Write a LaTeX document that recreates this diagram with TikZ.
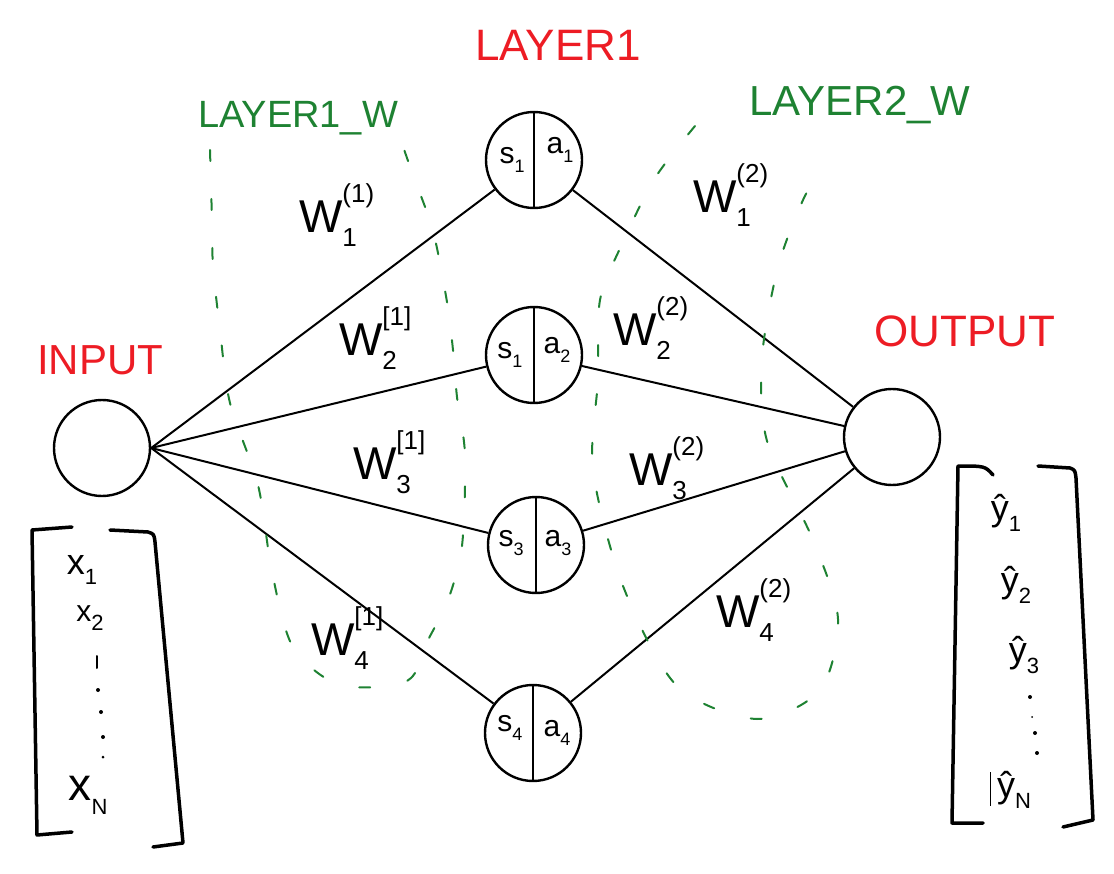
\documentclass[tikz,border=0pt]{standalone}
\usepackage{fontspec}
\setmainfont{Liberation Sans}
\definecolor{hred}{RGB}{237,28,36}
\definecolor{hgreen}{RGB}{30,130,50}
\newcommand{\fsz}[1]{\fontsize{#1}{#1}\selectfont}
\newcommand{\wlab}[2]{W\rlap{\raisebox{0.65em}{\fsz{26}#2}}\raisebox{-0.3em}{\fsz{26}#1}}
\newcommand{\unitsub}[2]{#1\raisebox{-0.3em}{\fsz{18}#2}}
\newcommand{\vecsub}[2]{#1\raisebox{-0.3em}{\fsz{22}#2}}
\tikzset{
  neuron/.style={circle,draw,line width=2.4pt,minimum size=96pt,inner sep=0pt},
  conn/.style={line width=2pt},
  redlbl/.style={text=hred},
  greenlbl/.style={text=hgreen},
  wlbl/.style={font=\fsz{46}},
  unitlbl/.style={font=\fsz{30},inner sep=0pt},
  veclbl/.style={font=\fsz{36},inner sep=0pt},
  bracket/.style={line width=3.5pt,line cap=round,line join=round},
  groupline/.style={draw=hgreen,line width=2pt,dash pattern=on 11pt off 38pt,line cap=round},
  handdot/.style={fill,circle,inner sep=0pt,minimum size=4pt},
}
\begin{document}
\begin{tikzpicture}[x=1pt,y=-1pt]
\useasboundingbox (0,0) rectangle (1114,874);
% titles
\node[redlbl,font=\fsz{44}] (t1) at (558,45) {LAYER1};
\node[greenlbl,font=\fsz{38}] (t2) at (298,118) {LAYER1\_W};
\node[greenlbl,font=\fsz{42}] (t3) at (860,105) {LAYER2\_W};
\node[redlbl,font=\fsz{42}] (t4) at (100,360) {INPUT};
\node[redlbl,font=\fsz{44}] (t5) at (965,331) {OUTPUT};
% neurons
\node[neuron] (in) at (102,448) {};
\node[neuron] (out) at (892,437) {};
\node[neuron] (h1) at (534,160) {};
\node[neuron] (h2) at (534,355) {};
\node[neuron] (h3) at (536,545) {};
\node[neuron] (h4) at (533,733) {};
\foreach \h in {h1,h2,h3,h4}{\draw[conn] (\h.north) -- (\h.south);}
% unit labels
\node[unitlbl] (s1) at (512,160) {\unitsub{s}{1}};
\node[unitlbl] (a1) at (560,150) {\unitsub{a}{1}};
\node[unitlbl] (s2) at (510,355) {\unitsub{s}{1}};
\node[unitlbl] (a2) at (557,350) {\unitsub{a}{2}};
\node[unitlbl] (s3) at (511,543) {\unitsub{s}{3}};
\node[unitlbl] (a3) at (558,543) {\unitsub{a}{3}};
\node[unitlbl] (s4) at (510,728) {\unitsub{s}{4}};
\node[unitlbl] (a4) at (557,733) {\unitsub{a}{4}};
% connections
\foreach \h in {h1,h2,h3,h4}{\draw[conn] (in.east) -- (\h); \draw[conn] (\h) -- (out);}
% weight labels
\node[wlbl] (w11) at (328,215) {\wlab{1}{(1)}};
\node[wlbl] (w21) at (368,338) {\wlab{2}{[1]}};
\node[wlbl] (w31) at (382,462) {\wlab{3}{[1]}};
\node[wlbl] (w41) at (340,638) {\wlab{4}{[1]}};
\node[wlbl] (w12) at (722,195) {\wlab{1}{(2)}};
\node[wlbl] (w22) at (642,328) {\wlab{2}{(2)}};
\node[wlbl] (w32) at (658,468) {\wlab{3}{(2)}};
\node[wlbl] (w42) at (745,610) {\wlab{4}{(2)}};
% green groups
\draw[groupline] plot[smooth] coordinates {(210,150) (212,221) (213,266) (220,330) (230,403) (258,485) (272,572) (293,647) (340,685) (407,681) (428,640) (448,600) (462,546) (465,455) (457,397) (453,350) (447,302) (433,231) (413,175) (400,138)};
\draw[groupline] plot[smooth] coordinates {(695,126) (655,178) (623,242) (600,300) (598,379) (593,470) (623,586) (677,686) (757,719) (820,690) (838,619) (813,540) (767,441) (762,358) (778,267) (803,200) (822,169)};
% input vector
\draw[bracket] (72,527) -- (32,530) -- (37,835) -- (72,832);
\draw[bracket] (110,530) -- (148,532) .. controls (154,534) .. (155,542) -- (183,843) -- (153,847);
\node[veclbl] (x1) at (82,570) {\vecsub{x}{1}};
\node[veclbl,font=\fsz{30}] (x2) at (90,618) {\vecsub{x}{2}};
\node[veclbl,font=\fsz{46}] (xn) at (88,795) {\vecsub{x}{N}};
\draw[conn,line cap=round] (97,656) -- (97,668);
\node[handdot] (xd1) at (98,690) {};
\node[handdot] (xd2) at (101,712) {};
\node[handdot] (xd3) at (103,737) {};
\node[handdot,minimum size=3pt] (xd4) at (103,757) {};
% output vector
\draw[bracket] (993,475) .. controls (985,466) .. (958,466) -- (952,823) -- (983,823);
\draw[bracket] (1038,466) -- (1070,468) .. controls (1075,470) .. (1076,478) -- (1093,820) -- (1063,827);
\node[veclbl] (y1) at (1006,513) {\vecsub{ŷ}{1}};
\node[veclbl] (y2) at (1016,585) {\vecsub{ŷ}{2}};
\node[veclbl] (y3) at (1024,655) {\vecsub{ŷ}{3}};
\node[veclbl] (yn) at (1014,790) {\vecsub{ŷ}{N}};
\node[handdot] (yd1) at (1030,697) {};
\node[handdot,minimum size=2pt] (yd2) at (1032,717) {};
\node[handdot] (yd3) at (1035,733) {};
\node[handdot] (yd4) at (1037,753) {};
\draw[line width=1pt] (990,772) -- (990,806);
\end{tikzpicture}
\end{document}
